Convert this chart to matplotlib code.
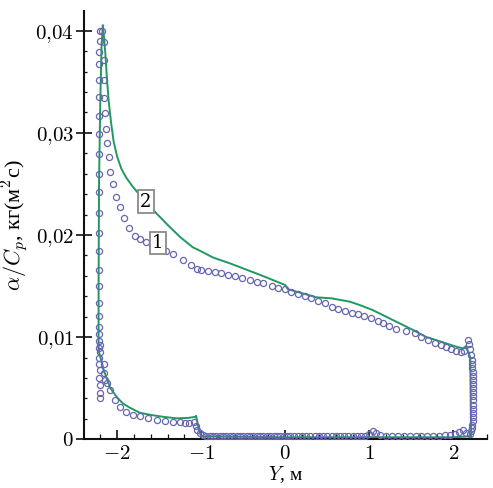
import numpy as np
import matplotlib
matplotlib.use("Agg")
import matplotlib.pyplot as plt
from matplotlib.ticker import FixedLocator, FixedFormatter, MultipleLocator

plt.rcParams['mathtext.fontset'] = 'cm'
plt.rcParams['font.family'] = ['Liberation Serif', 'DejaVu Serif']

# ---- Series 2 (green line, calculation) ----
green_upper_y = [-2.17, -2.155, -2.14, -2.12, -2.10, -2.07, -2.04, -2.00, -1.95, -1.89, -1.82, -1.75,
                 -1.65, -1.53, -1.40, -1.25, -1.10, -1.00, -0.86, -0.65, -0.46, -0.30, -0.15, 0.00,
                 0.03, 0.20, 0.37, 0.55, 0.77, 0.90, 1.04, 1.20, 1.36, 1.52, 1.68, 1.80, 1.91, 2.02,
                 2.11, 2.15]
green_upper_v = [0.0405, 0.0393, 0.0378, 0.0352, 0.0331, 0.0309, 0.0291, 0.0277, 0.0265, 0.0256, 0.0248,
                 0.0241, 0.0232, 0.0221, 0.0210, 0.0198, 0.0188, 0.0184, 0.0178, 0.0172, 0.0166, 0.0161,
                 0.0156, 0.0151, 0.0147, 0.0143, 0.0139, 0.0138, 0.01347, 0.0131, 0.01265, 0.0120,
                 0.01135, 0.0107, 0.0100, 0.0097, 0.0094, 0.0091, 0.0089, 0.0091]
green_left_y = [-2.22, -2.22, -2.215, -2.20, -2.185, -2.17]
green_left_v = [0.0087, 0.0150, 0.0250, 0.0330, 0.0385, 0.0405]
green_lower_y = [-2.22, -2.16, -2.08, -2.00, -1.93, -1.85, -1.73, -1.61, -1.45, -1.29, -1.15, -1.07,
                 -1.06, -1.03, -1.00, 0.00, 1.00, 2.00, 2.21, 2.20, 2.15]
green_lower_v = [0.0087, 0.0068, 0.0050, 0.0041, 0.0035, 0.0031, 0.0026, 0.0024, 0.0022, 0.00205,
                 0.0021, 0.0022, 0.0023, 0.0010, 0.0003, 0.0002, 0.0002, 0.0002, 0.0003, 0.0080, 0.0091]

# ---- Series 1 (markers, experiment) ----
m_left_y = [-2.20, -2.20, -2.21, -2.21, -2.21, -2.21, -2.21, -2.21, -2.21, -2.21, -2.21, -2.21, -2.21,
            -2.21, -2.21, -2.21, -2.21, -2.21, -2.21, -2.21, -2.21, -2.20, -2.21, -2.20, -2.21, -2.21,
            -2.20, -2.21, -2.20, -2.20, -2.20]
m_left_v = [0.0400, 0.0390, 0.0379, 0.0367, 0.0352, 0.0335, 0.0317, 0.0299, 0.0279, 0.0260, 0.0242,
            0.0222, 0.0202, 0.0184, 0.0166, 0.0150, 0.0133, 0.0121, 0.0110, 0.0103, 0.0096, 0.0092,
            0.0089, 0.0085, 0.0080, 0.0074, 0.0068, 0.0060, 0.0053, 0.0045, 0.0040]

m_upper_y = [-2.18, -2.16, -2.16, -2.155, -2.15, -2.14, -2.13, -2.12, -2.10, -2.08, -2.045, -2.01,
             -1.97, -1.92, -1.855, -1.79, -1.73, -1.66, -1.58, -1.50, -1.42, -1.33, -1.22, -1.12,
             -1.05, -1.00, -0.92, -0.84, -0.76, -0.68, -0.60, -0.52, -0.42, -0.34, -0.26, -0.16,
             -0.085, 0.00, 0.07, 0.15, 0.23, 0.31, 0.39, 0.47, 0.55, 0.63, 0.71, 0.79, 0.86, 0.94,
             1.02, 1.10, 1.16, 1.23, 1.32, 1.44, 1.54, 1.62, 1.70, 1.78, 1.855, 1.91, 1.97, 2.03,
             2.09, 2.13, 2.17]
m_upper_v = [0.0400, 0.0389, 0.0371, 0.0352, 0.0334, 0.0319, 0.0304, 0.0290, 0.0276, 0.0262, 0.0250,
             0.0237, 0.0227, 0.0217, 0.0207, 0.0199, 0.01957, 0.0193, 0.0190, 0.0187, 0.0184, 0.0181,
             0.0176, 0.0171, 0.0167, 0.0166, 0.0165, 0.0164, 0.0163, 0.0161, 0.0160, 0.0158, 0.0156,
             0.0154, 0.0153, 0.0150, 0.0148, 0.0147, 0.0144, 0.0142, 0.0140, 0.0138, 0.01356, 0.0133,
             0.0130, 0.0128, 0.01258, 0.01239, 0.01223, 0.01206, 0.01184, 0.01158, 0.01135, 0.0111,
             0.01076, 0.0106, 0.01037, 0.01004, 0.0097, 0.00945, 0.0092, 0.0090, 0.0088, 0.00867,
             0.00857, 0.0086, 0.0097]

m_right_y = [2.19, 2.20, 2.21, 2.22, 2.22, 2.225, 2.23, 2.23, 2.23, 2.23, 2.23, 2.23, 2.23, 2.23,
             2.23, 2.23, 2.23, 2.23, 2.23, 2.225, 2.22, 2.21, 2.20]
m_right_v = [0.0093, 0.0088, 0.0083, 0.0078, 0.0074, 0.0070, 0.0066, 0.0062, 0.0058, 0.0054, 0.0050,
             0.0046, 0.0042, 0.0038, 0.0034, 0.0030, 0.0026, 0.0022, 0.0018, 0.0014, 0.0011, 0.0008,
             0.0005]

m_lowleft_y = [-2.16, -2.16, -2.14, -2.12, -2.08, -2.02, -1.97, -1.89, -1.81, -1.73, -1.63, -1.53,
               -1.43, -1.33, -1.25, -1.19, -1.14, -1.09, -1.06, -1.05, -1.02]
m_lowleft_v = [0.0074, 0.0065, 0.0058, 0.0055, 0.0048, 0.0038, 0.0032, 0.0027, 0.0024, 0.0023,
               0.00205, 0.0019, 0.0018, 0.0017, 0.00166, 0.0016, 0.0016, 0.0017, 0.0013, 0.0009,
               0.0006]

m_low_y = [-0.98, -0.94, -0.90, -0.86, -0.82, -0.78, -0.74, -0.70, -0.66, -0.62, -0.58, -0.54, -0.50,
           -0.46, -0.42, -0.38, -0.34, -0.30, -0.26, -0.22, -0.18, -0.14, -0.10, -0.06, -0.02, 0.02,
           0.06, 0.10, 0.15, 0.20, 0.25, 0.30, 0.35, 0.40, 0.45, 0.50, 0.55, 0.60, 0.65, 0.70, 0.75,
           0.80, 0.85, 0.90, 0.95, 1.00, 1.04, 1.08, 1.13, 1.20, 1.27, 1.34, 1.41, 1.48, 1.55, 1.62,
           1.69, 1.76, 1.83, 1.90, 1.96, 2.02, 2.07, 2.11, 2.15]
m_low_v = [0.0004, 0.0003, 0.0003, 0.0003, 0.0003, 0.0003, 0.0003, 0.0003, 0.0003, 0.0003, 0.0003,
           0.0003, 0.0003, 0.0003, 0.0003, 0.0003, 0.0003, 0.0003, 0.0003, 0.0003, 0.0003, 0.0003,
           0.0003, 0.0003, 0.0003, 0.0003, 0.0003, 0.0003, 0.0003, 0.0003, 0.0003, 0.0003, 0.0003,
           0.0003, 0.0003, 0.0003, 0.0003, 0.0003, 0.0003, 0.0003, 0.0003, 0.0003, 0.0003, 0.0003,
           0.0003, 0.0005, 0.0008, 0.0006, 0.0004, 0.0003, 0.0003, 0.0003, 0.0003, 0.0003, 0.0003,
           0.0003, 0.0003, 0.0003, 0.0003, 0.0004, 0.0004, 0.0005, 0.0007, 0.0009, 0.0006]

x_ticks = [-2, -1, 0, 1, 2]
x_tick_labels = [r'$-2$', r'$-1$', r'$0$', r'$1$', r'$2$']
y_ticks = [0, 0.01, 0.02, 0.03, 0.04]
y_tick_labels = [r'$0$', r'$0{,}01$', r'$0{,}02$', r'$0{,}03$', r'$0{,}04$']

GREEN = '#1f9a5e'
MARK = '#6666b0'

fig = plt.figure(figsize=(4.93, 4.88), dpi=100)
ax = fig.add_axes([0.171, 0.0998, 0.817, 0.877])

ax.plot(green_lower_y, green_lower_v, color=GREEN, lw=1.4, zorder=2, solid_joinstyle='round')
ax.plot(green_left_y, green_left_v, color=GREEN, lw=1.4, zorder=2)
ax.plot(green_upper_y, green_upper_v, color=GREEN, lw=1.4, zorder=2, solid_joinstyle='round')

for ys, vs in [(m_left_y, m_left_v), (m_upper_y, m_upper_v), (m_right_y, m_right_v),
               (m_lowleft_y, m_lowleft_v), (m_low_y, m_low_v)]:
    ax.plot(ys, vs, linestyle='none', marker='o', markersize=4.4, markerfacecolor='none',
            markeredgecolor=MARK, markeredgewidth=0.9, zorder=3)

box = dict(boxstyle='square,pad=0.12', fc='white', ec='#8a8a8a', lw=1.3)
ax.text(-1.657, 0.02327, '2', fontsize=13, ha='center', va='center', bbox=box, zorder=5,
        family='DejaVu Serif')
ax.text(-1.514, 0.0192, '1', fontsize=13, ha='center', va='center', bbox=box, zorder=5,
        family='DejaVu Serif')

ax.set_xlim(-2.39, 2.40)
ax.set_ylim(0, 0.0419)

ax.spines['top'].set_visible(False)
ax.spines['right'].set_visible(False)
for s in ['left', 'bottom']:
    ax.spines[s].set_linewidth(1.5)
    ax.spines[s].set_color('#111111')

ax.xaxis.set_major_locator(FixedLocator(x_ticks))
ax.xaxis.set_major_formatter(FixedFormatter(x_tick_labels))
ax.yaxis.set_major_locator(FixedLocator(y_ticks))
ax.yaxis.set_major_formatter(FixedFormatter(y_tick_labels))
ax.xaxis.set_minor_locator(MultipleLocator(0.2))
ax.yaxis.set_minor_locator(MultipleLocator(0.002))

ax.tick_params(axis='x', which='major', direction='in', length=6.5, width=1.2, labelsize=15, pad=4,
               color='#111111')
ax.tick_params(axis='x', which='minor', direction='in', length=3.5, width=0.9, color='#111111')
ax.tick_params(axis='y', which='major', direction='inout', length=11, width=1.2, labelsize=15, pad=2,
               color='#111111')
ax.tick_params(axis='y', which='minor', direction='in', length=2.5, width=0.9, color='#111111')

ax.set_xlabel(r'$Y$, м', fontsize=14, labelpad=0)
ax.set_ylabel(r'$\alpha/C_p$, кг(м$^2$с)', fontsize=16, labelpad=4)

fig.savefig('out.png', dpi=100)
